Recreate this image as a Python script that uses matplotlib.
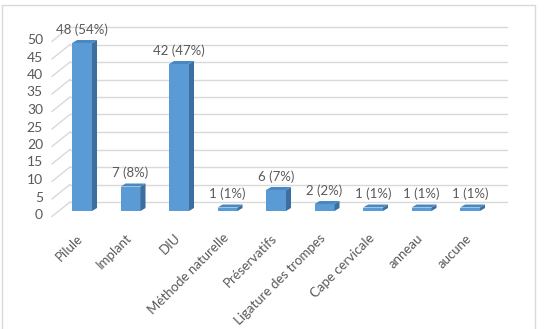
import numpy as np
import matplotlib.pyplot as plt
from matplotlib.patches import Polygon, Rectangle
from matplotlib.transforms import ScaledTranslation

# Données
categories = ['Pilule', 'Implant', 'DIU', 'Méthode naturelle', 'Préservatifs',
              'Ligature des trompes', 'Cape cervicale', 'anneau', 'aucune']
effectifs = [48, 7, 42, 1, 6, 2, 1, 1, 1]
pourcentages = [54, 8, 47, 1, 7, 2, 1, 1, 1]
yticks = list(range(0, 55, 5))

plt.rcParams['font.family'] = ['Lato', 'DejaVu Sans']
txt_color = '#595959'
grid_color = '#D9D9D9'
c_front = '#5B9BD5'
c_side = '#3C6E9E'
c_top = '#4A88C4'

W, H = 544, 329
fig = plt.figure(figsize=(W / 100, H / 100), dpi=100)

# axes en pixels (plan des barres)
px_left, px_right, px_zero, px_top = 52, 510, 211, 20
unit_x = 48.5   # px par catégorie
unit_y = 3.5    # px par unité
ax = fig.add_axes([px_left / W, (H - px_zero) / H,
                   (px_right - px_left) / W, (px_zero - px_top) / H])
x0 = -0.62
ax.set_xlim(x0, x0 + (px_right - px_left) / unit_x)
ax.set_ylim(0, (px_zero - px_top) / unit_y)
ax.axis('off')

# profondeur 3D
dx, dy = 5 / unit_x, 3 / unit_y
back_dx, back_dy = 18 / unit_x, 9 / unit_y
front_dy = -4 / unit_y
x_back0 = x0 + back_dx
x_back1 = x0 + (507 - px_left) / unit_x

def px(dxp, dyp):
    return ScaledTranslation(dxp / 100, -dyp / 100, fig.dpi_scale_trans)

# murs : quadrillage du fond et lignes du mur gauche
for v in yticks:
    ax.plot([x_back0, x_back1], [v + back_dy, v + back_dy], color=grid_color,
            lw=1, zorder=0, clip_on=False)
    ax.plot([x0, x_back0], [v + front_dy - 0.4, v + back_dy], color=grid_color,
            lw=1, zorder=0, clip_on=False)
    # étiquettes de l'axe Y
    ax.text(x0, v, str(v), transform=ax.transData + px(-9, 4),
            ha='right', va='center', fontsize=10, color=txt_color)

x = np.arange(len(categories))
bw = 0.41
ax.bar(x, effectifs, bw, color=c_front, zorder=3)
for xi, v in zip(x, effectifs):
    r, l = xi + bw / 2, xi - bw / 2
    side = Polygon([(r, 0), (r + dx, dy), (r + dx, v + dy), (r, v)],
                   closed=True, facecolor=c_side, edgecolor='none', zorder=3)
    top = Polygon([(l, v), (l + dx, v + dy), (r + dx, v + dy), (r, v)],
                  closed=True, facecolor=c_top, edgecolor='none', zorder=4)
    ax.add_patch(side)
    ax.add_patch(top)

# étiquettes de données
for xi, v, p in zip(x, effectifs, pourcentages):
    ax.annotate(f'{v} ({p}%)', (xi, v), xytext=(0, 9.7), textcoords='offset points',
                ha='center', va='center', fontsize=9.5, color=txt_color)

# étiquettes des catégories
for xi, lab in zip(x, categories):
    ax.text(xi, 0, lab, transform=ax.transData + px(-1, 25),
            rotation=45, rotation_mode='anchor', ha='right', va='center',
            fontsize=9.5, color=txt_color)

# cadre du graphique
fig.patches.append(Rectangle((2 / W, -0.01), 533 / W, 1.01 - 5 / H,
                             transform=fig.transFigure, fill=False,
                             edgecolor=grid_color, lw=1))

fig.savefig('out.png', dpi=100)
